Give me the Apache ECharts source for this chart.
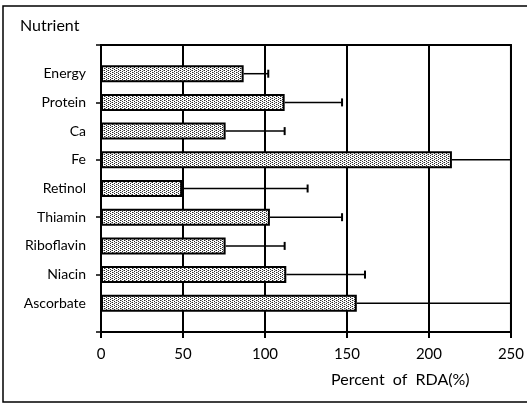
<!DOCTYPE html>
<html>
<head>
<meta charset="utf-8">
<script src="https://cdn.jsdelivr.net/npm/echarts@6/dist/echarts.min.js"></script>
<style>
  html, body { margin: 0; padding: 0; background: #fff; }
  #chart { width: 527px; height: 404px; }
</style>
</head>
<body>
<div id="chart"></div>
<script>
// nutrients, top to bottom
const nutrients = ['Energy', 'Protein', 'Ca', 'Fe', 'Retinol', 'Thiamin', 'Riboflavin', 'Niacin', 'Ascorbate']
// mean % of RDA
const meanPct = [87, 112, 76, 214, 49.5, 103, 76, 113, 156]
// mean + SD (upper end of the error bar)
const upperPct = [102, 147, 112, 270, 126, 147, 112, 161, 265]
const xTicks = [0, 50, 100, 150, 200, 250]

const FONT = 'Lato, "Noto Sans", sans-serif'

// half a slot of empty space above and below the bars
const yCats = ['_top'].concat(nutrients, ['_bottom'])
// the left axis only carries a tick every second slot
const yTickSlots = ['t0', 't1', 't2', 't3', 't4', 't5']

// stipple fill like the printed figure
function makeStipple() {
    const c = document.createElement('canvas')
    c.width = 4
    c.height = 4
    const ctx = c.getContext('2d')
    ctx.fillStyle = '#fff'
    ctx.fillRect(0, 0, 4, 4)
    ctx.fillStyle = '#2a2a2a'
    ctx.fillRect(0, 0, 1, 1)
    ctx.fillRect(2, 1, 1, 1)
    ctx.fillRect(0, 2, 1, 1)
    ctx.fillRect(2, 3, 1, 1)
    ctx.fillStyle = '#9a9a9a'
    ctx.fillRect(1, 0, 1, 1)
    ctx.fillRect(3, 2, 1, 1)
    return c
}

const chart = echarts.init(document.getElementById('chart'), null, { renderer: 'canvas' })

const option = {
    animation: false,
    backgroundColor: '#fff',
    grid: {
        left: 101, right: 11, top: 45, bottom: 72,
        show: true, borderColor: '#000', borderWidth: 2
    },
    xAxis: {
        type: 'value',
        min: xTicks[0],
        max: xTicks[xTicks.length - 1],
        interval: 50,
        axisLine: { show: true, lineStyle: { color: '#000', width: 2 } },
        axisTick: { show: true, length: 6, lineStyle: { color: '#000', width: 2 } },
        splitLine: { show: true, lineStyle: { color: '#000', width: 2 } },
        axisLabel: { color: '#000', fontSize: 15, fontFamily: FONT, margin: 15 }
    },
    yAxis: [
        {
            type: 'category',
            inverse: true,
            boundaryGap: false,
            data: yCats,
            axisLine: { show: true, lineStyle: { color: '#000', width: 2 } },
            axisTick: { show: false },
            splitLine: { show: false },
            axisLabel: {
                interval: 0, color: '#000', fontSize: 14, fontFamily: FONT, margin: 15,
                formatter: v => (v.charAt(0) === '_' ? '' : v)
            }
        },
        {
            type: 'category',
            position: 'left',
            boundaryGap: false,
            data: yTickSlots,
            axisLine: { show: false },
            axisTick: { show: true, length: 5, lineStyle: { color: '#000', width: 1.5 } },
            axisLabel: { show: false },
            splitLine: { show: false }
        }
    ],
    series: [
        {
            type: 'bar',
            barWidth: 17,
            data: nutrients.map((n, i) => [meanPct[i], n]),
            itemStyle: {
                color: { image: makeStipple(), repeat: 'repeat' },
                borderColor: '#000',
                borderWidth: 2
            },
            z: 3
        },
        {
            type: 'custom',
            data: nutrients.map((n, i) => [meanPct[i], n, upperPct[i]]),
            encode: { x: [0, 2], y: 1 },
            z: 2,
            renderItem: (params, api) => {
                const cs = params.coordSys
                const yIdx = api.value(1)
                const p0 = api.coord([api.value(0), yIdx])
                const p1 = api.coord([api.value(2), yIdx])
                const rightEdge = cs.x + cs.width
                const clipped = p1[0] > rightEdge
                const xEnd = Math.min(p1[0], rightEdge)
                const children = [{
                    type: 'line',
                    shape: { x1: p0[0], y1: p0[1], x2: xEnd, y2: p1[1] },
                    style: { stroke: '#000', lineWidth: 1.5 }
                }]
                if (!clipped) {
                    children.push({
                        type: 'line',
                        shape: { x1: xEnd, y1: p1[1] - 4, x2: xEnd, y2: p1[1] + 4 },
                        style: { stroke: '#000', lineWidth: 2 }
                    })
                }
                return { type: 'group', children }
            }
        }
    ],
    graphic: [
        {
            type: 'rect',
            shape: { x: 3, y: 6, width: 560, height: 396 },
            style: { fill: 'none', stroke: '#000', lineWidth: 1.5 },
            silent: true
        },
        {
            type: 'text',
            left: 20, top: 18,
            style: { text: 'Nutrient', fontSize: 16, fontFamily: FONT, fill: '#000' }
        },
        {
            type: 'text',
            left: 331, top: 372,
            style: { text: 'Percent  of  RDA(%)', fontSize: 16, fontFamily: FONT, fill: '#000' }
        }
    ]
}

chart.setOption(option)
</script>
</body>
</html>
